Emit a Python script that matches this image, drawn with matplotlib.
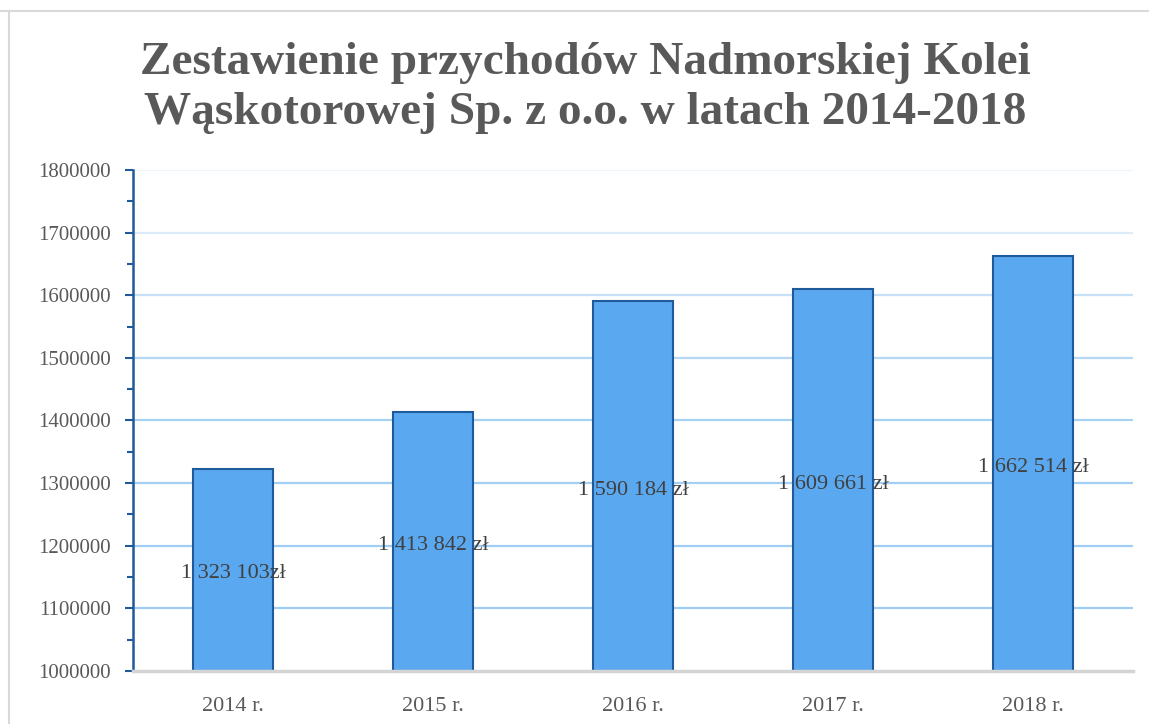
import matplotlib
matplotlib.use("Agg")
import matplotlib.pyplot as plt
import matplotlib.patheffects as pe
from matplotlib.lines import Line2D
from matplotlib.ticker import MultipleLocator

years = ["2014 r.", "2015 r.", "2016 r.", "2017 r.", "2018 r."]
values = [1323103, 1413842, 1590184, 1609661, 1662514]
labels = ["1 323 103zł", "1 413 842 zł", "1 590 184 zł", "1 609 661 zł", "1 662 514 zł"]
yticks = [1000000, 1100000, 1200000, 1300000, 1400000, 1500000, 1600000, 1700000, 1800000]
title = "Zestawienie przychodów Nadmorskiej Kolei\nWąskotorowej Sp. z o.o. w latach 2014-2018"

plt.rcParams['font.family'] = ['Liberation Serif', 'DejaVu Serif']

fig = plt.figure(figsize=(11.49, 7.24), dpi=100)
W, H = 1149, 724
ax = fig.add_axes([133 / W, 1 - 671 / H, 1000 / W, (671 - 170) / H])

ymin, ymax = 1000000, 1800000
ax.set_ylim(ymin, ymax)
ax.set_xlim(-0.5, len(years) - 0.5)

# gridlines with fading colours
grid_cols = {1100000: '#9fcdf3', 1200000: '#9fcdf3', 1300000: '#a2cff3', 1400000: '#a8d2f3',
             1500000: '#b5d8f5', 1600000: '#c6e1f8', 1700000: '#dcecfa', 1800000: '#edf5fd'}
for yv in yticks[1:]:
    ax.axhline(yv, color=grid_cols[yv], lw=1.6, zorder=0)

xs = list(range(len(years)))
bars = ax.bar(xs, [v - ymin for v in values], bottom=ymin, width=0.4,
              color='#5aa8f0', edgecolor='#1f5a9a', linewidth=1.5, zorder=3)
for b in bars:
    b.set_path_effects([pe.SimplePatchShadow(offset=(0, 0), shadow_rgbFace='#000000', alpha=0.18),
                        pe.Normal()])

for x, v, lab in zip(xs, values, labels):
    ax.annotate(lab, (x, (ymin + v) / 2), xytext=(0, -3), textcoords='offset points',
                ha='center', va='center', fontsize=16, color='#404040', zorder=5)

ax.set_yticks(yticks)
ax.set_yticklabels([str(t) for t in yticks], fontsize=15, color='#595959')
ax.yaxis.set_minor_locator(MultipleLocator(50000))
ax.tick_params(axis='y', which='major', direction='out', length=6, width=1.5, color='#1f5a9a', pad=10)
ax.tick_params(axis='y', which='minor', direction='out', length=4, width=1.5, color='#1f5a9a')
ax.set_xticks(xs)
ax.set_xticklabels(years, fontsize=16, color='#595959')
ax.tick_params(axis='x', length=0, pad=19)

for s in ['top', 'right']:
    ax.spines[s].set_visible(False)
ax.spines['left'].set_color('#1f5a9a')
ax.spines['left'].set_linewidth(1.8)
ax.spines['bottom'].set_color('#d4d4d4')
ax.spines['bottom'].set_linewidth(2.5)
ax.spines['bottom'].set_zorder(4)

fig.text(585 / W, 1 - 88 / H, title, ha='center', va='center', fontsize=34,
         fontweight='bold', color='#595959', linespacing=1.25)

# outer frame lines
fig.add_artist(Line2D([0, 1], [1 - 11 / H, 1 - 11 / H], transform=fig.transFigure, color='#d9d9d9', lw=1.5))
fig.add_artist(Line2D([9 / W, 9 / W], [0, 1 - 11 / H], transform=fig.transFigure, color='#d9d9d9', lw=1.5))

fig.savefig("out.png", dpi=100)
